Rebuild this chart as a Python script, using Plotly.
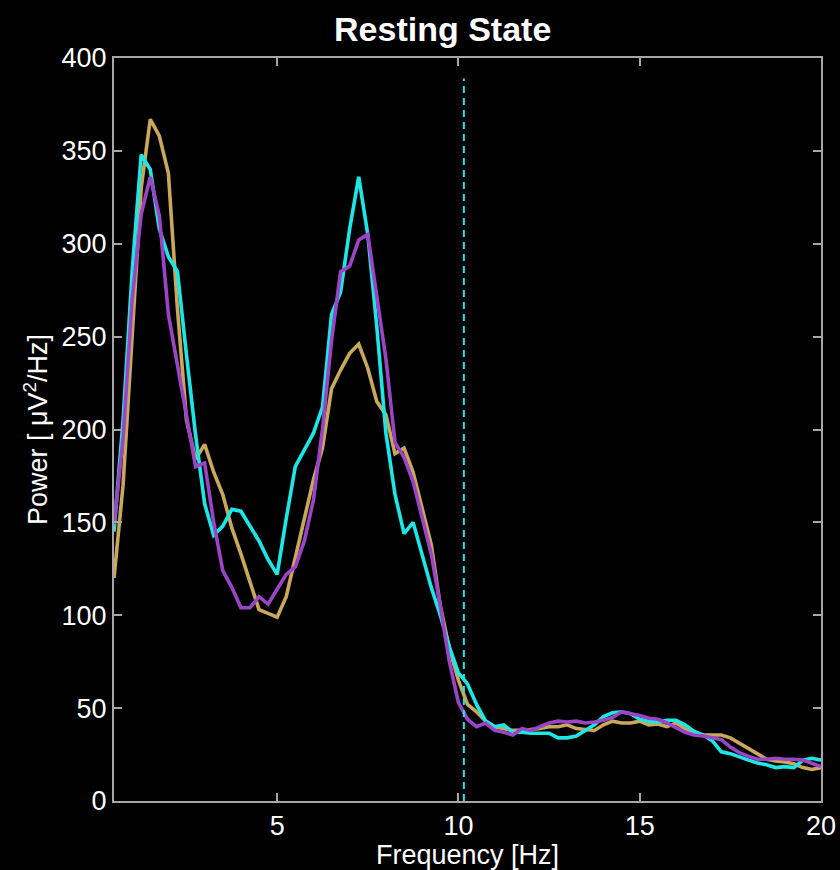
import plotly.graph_objects as go

# Frequency grid (Hz)
freq = [0.5 + 0.25 * i for i in range(79)]

gold = [120, 170, 250, 330, 367, 358, 338, 265, 205, 184,
        192, 177, 165, 147, 133, 118, 103, 101, 99, 110,
        131, 150, 173, 190, 222, 232, 241, 246, 233, 215,
        208, 187, 190, 177, 158, 138, 105, 82, 65, 52,
        48, 43, 40, 39, 38, 38, 38.5, 39, 40, 40,
        41, 39, 38.5, 38, 41, 43, 42, 42, 43, 41,
        41.5, 40, 42, 39, 37, 35.5, 35.5, 35.5, 34, 31,
        28, 25, 22.5, 21.5, 21, 20, 18, 17, 18]

cyan = [145, 205, 285, 348, 340, 308, 293, 285, 240, 197,
        160, 143, 148, 157, 156, 148, 140, 130, 122, 152,
        180, 189, 198, 212, 262, 274, 308, 336, 305, 255,
        198, 165, 144, 150, 133, 115, 100, 83, 69, 63,
        52, 43, 40, 41, 37, 37, 36.5, 36.5, 36.5, 34,
        34, 35, 38, 41, 45.5, 47.5, 48, 47, 44, 43,
        42.5, 43.5, 43.5, 41, 37.5, 35.5, 32.5, 26.5, 25.5, 23.5,
        22, 20.5, 19.5, 18, 18.5, 18, 22, 23, 22]

purple = [149, 195, 270, 316, 336, 315, 262, 235, 208, 180,
          182, 150, 124, 115, 104, 104, 110, 106, 114, 122,
          126, 140, 162, 200, 248, 285, 288, 302, 305, 273,
          238, 193, 185, 172, 152, 133, 105, 75, 53, 44,
          40, 42, 38, 37, 35.5, 39, 38, 40, 42, 43,
          42.5, 43, 42, 42.5, 43.5, 45, 48, 47, 46, 44.5,
          44, 42, 39.5, 37, 35.5, 35, 34, 33, 29, 26,
          24, 22.5, 22.5, 23, 22.5, 22.5, 22, 20, 18.5]

marker_freq = [10.15, 10.15]
marker_power = [0, 389]

x_ticks = [5, 10, 15, 20]
y_ticks = [0, 50, 100, 150, 200, 250, 300, 350, 400]

FONT = "Liberation Sans, Arial, sans-serif"
AXIS_COL = "#a6a6a6"

fig = go.Figure()
for vals, col in [(gold, "#c9a85c"), (cyan, "#1ee6e6"), (purple, "#9b44c6")]:
    fig.add_trace(go.Scatter(x=freq, y=vals, mode="lines",
                             line=dict(color=col, width=3.6), showlegend=False,
                             hoverinfo="skip"))
fig.add_trace(go.Scatter(x=marker_freq, y=marker_power, mode="lines",
                         line=dict(color="#1ee6e6", width=2, dash="7px,5px"),
                         showlegend=False, hoverinfo="skip"))

fig.update_layout(
    width=840, height=870,
    paper_bgcolor="black", plot_bgcolor="black",
    margin=dict(l=114, r=19, t=58, b=69),
    font=dict(family=FONT, color="white", size=27),
    title=dict(text="<b>Resting State</b>", x=0.527, xanchor="center",
               y=0.967, yanchor="middle", font=dict(size=34, color="white", family=FONT)),
)
fig.update_xaxes(range=[0.5, 20], tickvals=x_ticks, ticktext=[str(t) for t in x_ticks],
                 ticks="inside", ticklen=8, tickwidth=1.5, tickcolor=AXIS_COL,
                 showline=True, linecolor=AXIS_COL, linewidth=2, mirror="ticks",
                 showgrid=False, zeroline=False, automargin=False,
                 tickfont=dict(size=27, color="white"),
                 title=dict(text="Frequency [Hz]", font=dict(size=27, color="white"), standoff=2))
fig.update_yaxes(range=[0, 400], tickvals=y_ticks, ticktext=[str(t) for t in y_ticks],
                 ticks="inside", ticklen=8, tickwidth=1.5, tickcolor=AXIS_COL,
                 showline=True, linecolor=AXIS_COL, linewidth=2, mirror="ticks",
                 showgrid=False, zeroline=False, automargin=False,
                 tickfont=dict(size=27, color="white"),
                 title=dict(text="Power [ \u03bcV<sup>2</sup>/Hz]", font=dict(size=27, color="white"), standoff=6))

fig.write_html("out.html")
